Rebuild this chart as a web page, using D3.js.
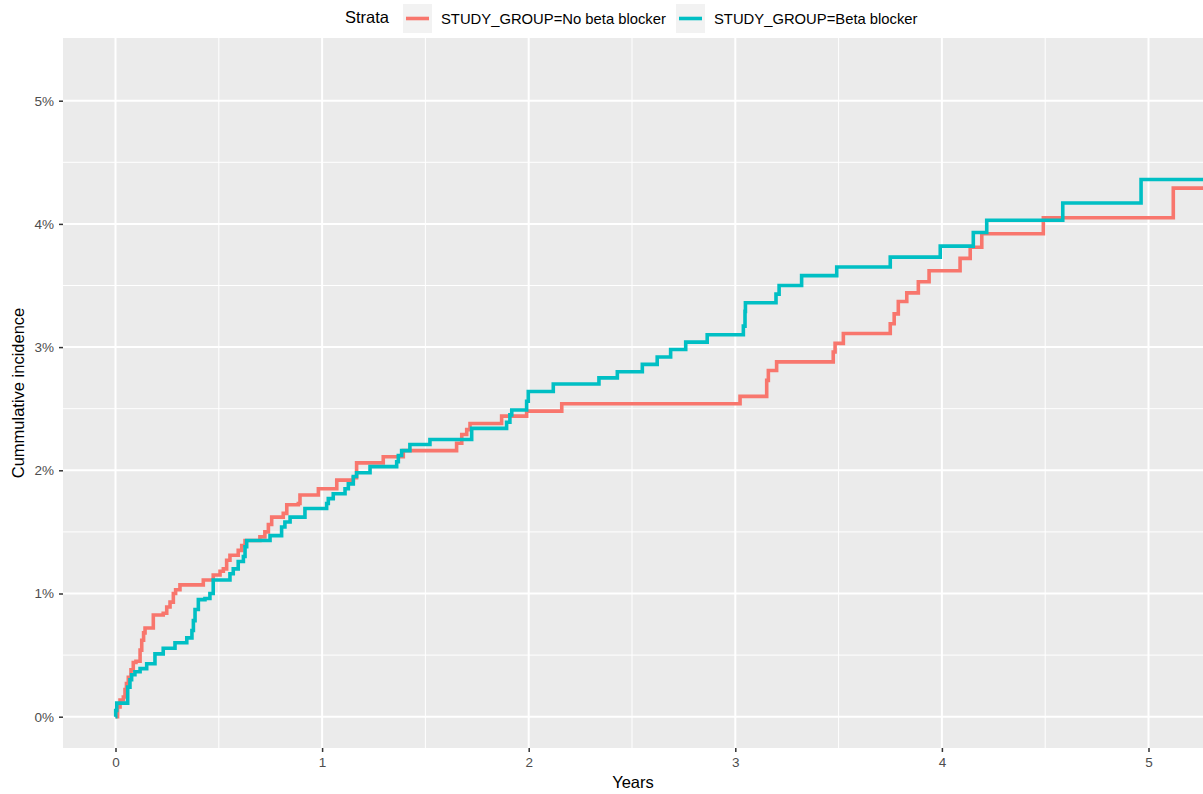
<!DOCTYPE html>
<html>
<head>
<meta charset="utf-8">
<script src="https://cdn.jsdelivr.net/npm/d3@7"></script>
<style>
  html, body { margin: 0; padding: 0; background: #ffffff; }
  svg { display: block; }
</style>
</head>
<body>
<svg id="chart" width="1203" height="794"></svg>
<script>
// Cumulative incidence step curves (time in years, incidence in %)
const noBetaTimes = [0, 0.010, 0.022, 0.038, 0.046, 0.053, 0.062, 0.075, 0.086, 0.099, 0.119, 0.127, 0.136, 0.143, 0.183, 0.231, 0.248, 0.264, 0.280, 0.291, 0.312, 0.425, 0.473, 0.506, 0.522, 0.538, 0.554, 0.594, 0.611, 0.627, 0.699, 0.723, 0.740, 0.756, 0.812, 0.829, 0.885, 0.893, 0.982, 1.071, 1.151, 1.167, 1.296, 1.393, 1.651, 1.676, 1.700, 1.716, 1.869, 1.990, 2.160, 3.023, 3.152, 3.160, 3.200, 3.474, 3.483, 3.523, 3.750, 3.769, 3.789, 3.830, 3.886, 3.938, 4.088, 4.137, 4.193, 4.491, 5.120, 5.300];
const noBetaValues = [0, 0.08, 0.135, 0.16, 0.22, 0.27, 0.32, 0.38, 0.44, 0.45, 0.54, 0.62, 0.68, 0.72, 0.825, 0.84, 0.89, 0.93, 1.00, 1.03, 1.07, 1.11, 1.15, 1.18, 1.20, 1.27, 1.31, 1.35, 1.39, 1.43, 1.46, 1.50, 1.56, 1.62, 1.65, 1.72, 1.73, 1.80, 1.85, 1.92, 1.94, 2.06, 2.11, 2.16, 2.22, 2.29, 2.33, 2.38, 2.44, 2.48, 2.54, 2.60, 2.73, 2.81, 2.88, 2.96, 3.03, 3.11, 3.19, 3.27, 3.37, 3.44, 3.53, 3.62, 3.72, 3.81, 3.92, 4.05, 4.29, 4.29];

const betaTimes = [0, 0.001, 0.006, 0.059, 0.070, 0.078, 0.094, 0.119, 0.151, 0.191, 0.231, 0.288, 0.345, 0.370, 0.377, 0.385, 0.401, 0.433, 0.457, 0.473, 0.554, 0.570, 0.594, 0.619, 0.627, 0.635, 0.748, 0.804, 0.820, 0.845, 0.917, 1.022, 1.030, 1.054, 1.111, 1.127, 1.151, 1.167, 1.232, 1.361, 1.369, 1.385, 1.425, 1.522, 1.724, 1.893, 1.909, 1.918, 1.990, 1.998, 2.119, 2.340, 2.429, 2.550, 2.622, 2.687, 2.760, 2.864, 3.039, 3.047, 3.049, 3.197, 3.212, 3.321, 3.491, 3.750, 3.992, 4.152, 4.217, 4.585, 4.964, 5.300];
const betaValues = [0, 0.05, 0.11, 0.24, 0.30, 0.34, 0.365, 0.39, 0.43, 0.51, 0.555, 0.60, 0.64, 0.70, 0.78, 0.87, 0.95, 0.96, 1.00, 1.11, 1.16, 1.20, 1.26, 1.30, 1.38, 1.43, 1.47, 1.54, 1.58, 1.62, 1.69, 1.73, 1.77, 1.81, 1.85, 1.89, 1.95, 1.98, 2.03, 2.07, 2.12, 2.16, 2.21, 2.25, 2.34, 2.39, 2.45, 2.49, 2.56, 2.64, 2.70, 2.75, 2.80, 2.86, 2.92, 2.98, 3.04, 3.10, 3.17, 3.29, 3.36, 3.43, 3.50, 3.58, 3.65, 3.73, 3.82, 3.93, 4.03, 4.17, 4.36, 4.36];

const strataNames = ["STUDY_GROUP=No beta blocker", "STUDY_GROUP=Beta blocker"];
const strataColors = ["#F8766D", "#00BFC4"];
const xTicks = [0, 1, 2, 3, 4, 5];
const yTicks = [0, 1, 2, 3, 4, 5];
const yTickLabels = ["0%", "1%", "2%", "3%", "4%", "5%"];

const svg = d3.select("#chart");
const panel = { left: 63, top: 38, right: 1203, bottom: 748 };

const x = d3.scaleLinear().domain([0, 5]).range([115.5, 1148.5]);
const y = d3.scaleLinear().domain([0, 5]).range([716.7, 100.7]);

// panel background
svg.append("rect")
  .attr("x", panel.left).attr("y", panel.top)
  .attr("width", panel.right - panel.left)
  .attr("height", panel.bottom - panel.top)
  .attr("fill", "#EBEBEB");

const grid = svg.append("g");
const xMinor = [0.5, 1.5, 2.5, 3.5, 4.5];
const yMinor = [0.5, 1.5, 2.5, 3.5, 4.5];
xMinor.forEach(v => grid.append("line")
  .attr("x1", x(v)).attr("x2", x(v)).attr("y1", panel.top).attr("y2", panel.bottom)
  .attr("stroke", "#ffffff").attr("stroke-width", 1));
yMinor.forEach(v => grid.append("line")
  .attr("y1", y(v)).attr("y2", y(v)).attr("x1", panel.left).attr("x2", panel.right)
  .attr("stroke", "#ffffff").attr("stroke-width", 1));
xTicks.forEach(v => grid.append("line")
  .attr("x1", x(v)).attr("x2", x(v)).attr("y1", panel.top).attr("y2", panel.bottom)
  .attr("stroke", "#ffffff").attr("stroke-width", 2));
yTicks.forEach(v => grid.append("line")
  .attr("y1", y(v)).attr("y2", y(v)).attr("x1", panel.left).attr("x2", panel.right)
  .attr("stroke", "#ffffff").attr("stroke-width", 2));

// clip curves to the panel
svg.append("clipPath").attr("id", "panelClip")
  .append("rect")
  .attr("x", panel.left).attr("y", panel.top)
  .attr("width", panel.right - panel.left)
  .attr("height", panel.bottom - panel.top);

const line = d3.line()
  .x(d => x(d[0]))
  .y(d => y(d[1]))
  .curve(d3.curveStepAfter);

const series = [
  d3.zip(noBetaTimes, noBetaValues),
  d3.zip(betaTimes, betaValues)
];

const curves = svg.append("g").attr("clip-path", "url(#panelClip)");
series.forEach((s, i) => {
  curves.append("path")
    .datum(s)
    .attr("d", line)
    .attr("fill", "none")
    .attr("stroke", strataColors[i])
    .attr("stroke-width", 3.6)
    .attr("stroke-linejoin", "miter");
});

// axes
const xAxis = d3.axisBottom(x).tickValues(xTicks).tickSize(4).tickPadding(5).tickFormat(d3.format("d"));
const yAxis = d3.axisLeft(y).tickValues(yTicks).tickSize(4).tickPadding(5).tickFormat((d, i) => yTickLabels[i]);

const gx = svg.append("g").attr("transform", `translate(0,${panel.bottom})`).call(xAxis);
const gy = svg.append("g").attr("transform", `translate(${panel.left},0)`).call(yAxis);
[gx, gy].forEach(g => {
  g.select(".domain").remove();
  g.selectAll(".tick line").attr("stroke", "#333333").attr("stroke-width", 1.5);
  g.selectAll(".tick text")
    .attr("fill", "#4D4D4D")
    .style("font-family", "'Liberation Sans', Arial, sans-serif")
    .style("font-size", "13.5px");
});

// axis titles
svg.append("text")
  .attr("x", (panel.left + panel.right) / 2)
  .attr("y", 788)
  .attr("text-anchor", "middle")
  .style("font-family", "'Liberation Sans', Arial, sans-serif")
  .style("font-size", "16.5px")
  .attr("fill", "#000000")
  .text("Years");

svg.append("text")
  .attr("transform", `translate(24,${(panel.top + panel.bottom) / 2}) rotate(-90)`)
  .attr("text-anchor", "middle")
  .style("font-family", "'Liberation Sans', Arial, sans-serif")
  .style("font-size", "16.5px")
  .attr("fill", "#000000")
  .text("Cummulative incidence");

// legend
const legend = svg.append("g").style("font-family", "'Liberation Sans', Arial, sans-serif");
legend.append("text")
  .attr("x", 345).attr("y", 23)
  .style("font-size", "16.5px")
  .attr("fill", "#000000")
  .text("Strata");

const keyX = [403, 676];
strataNames.forEach((name, i) => {
  const g = legend.append("g").attr("transform", `translate(${keyX[i]},4)`);
  g.append("rect").attr("width", 29).attr("height", 29).attr("fill", "#F2F2F2");
  g.append("line")
    .attr("x1", 3).attr("x2", 26).attr("y1", 14.5).attr("y2", 14.5)
    .attr("stroke", strataColors[i]).attr("stroke-width", 3.6);
  g.append("text")
    .attr("x", 38).attr("y", 19.5)
    .style("font-size", "14.8px")
    .attr("fill", "#000000")
    .text(name);
});
</script>
</body>
</html>
